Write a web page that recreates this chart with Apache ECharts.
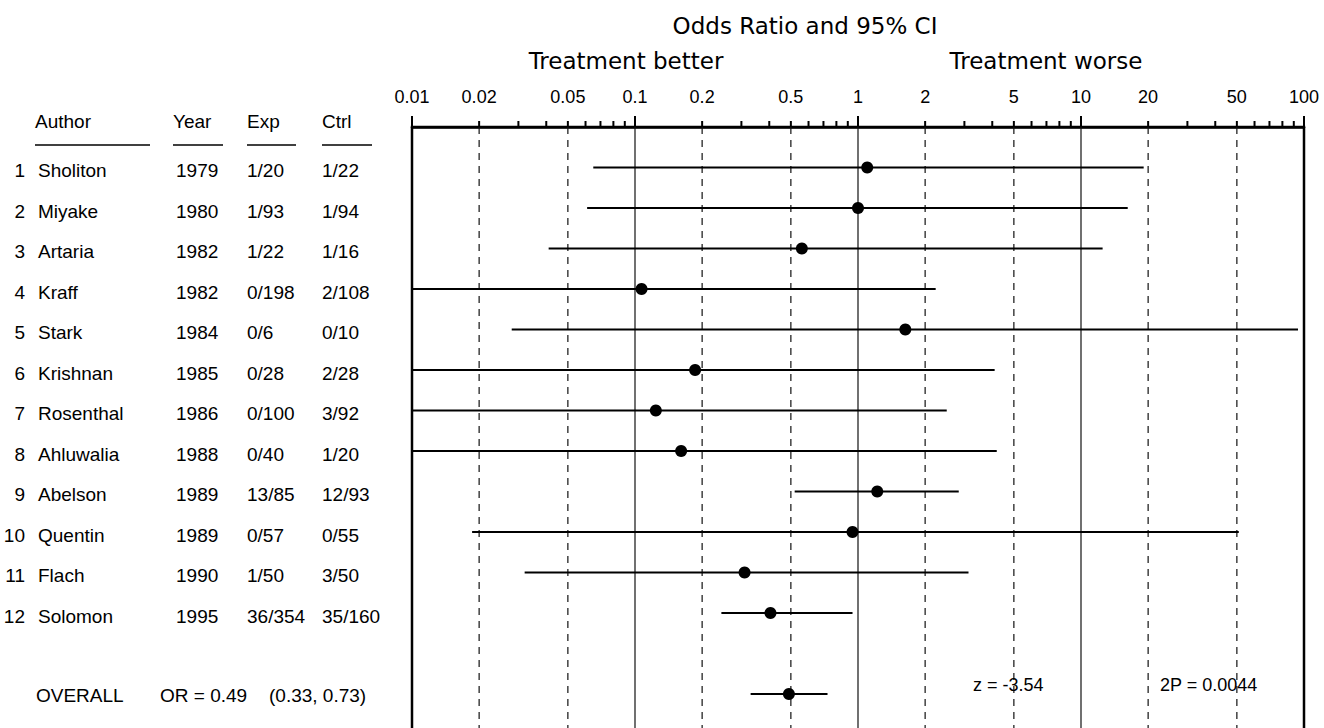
<!DOCTYPE html>
<html><head><meta charset="utf-8">
<script src="https://cdn.jsdelivr.net/npm/echarts@6/dist/echarts.min.js"></script>
<style>html,body{margin:0;padding:0;background:#fff}#c{width:1324px;height:728px}</style>
</head><body><div id="c"></div>
<script>
// ---------- data ----------
const authors = ['Sholiton','Miyake','Artaria','Kraff','Stark','Krishnan','Rosenthal','Ahluwalia','Abelson','Quentin','Flach','Solomon'];
const years   = ['1979','1980','1982','1982','1984','1985','1986','1988','1989','1989','1990','1995'];
const expArm  = ['1/20','1/93','1/22','0/198','0/6','0/28','0/100','0/40','13/85','0/57','1/50','36/354'];
const ctrlArm = ['1/22','1/94','1/16','2/108','0/10','2/28','3/92','1/20','12/93','0/55','3/50','35/160'];
const oddsRatio = [1.10, 1.00, 0.56, 0.107, 1.63, 0.186, 0.124, 0.161, 1.22, 0.945, 0.31, 0.405];
const ciLower   = [0.065, 0.061, 0.041, 0.005, 0.028, 0.005, 0.005, 0.005, 0.52, 0.0186, 0.032, 0.244];
const ciUpper   = [19.1, 16.2, 12.5, 2.23, 94, 4.1, 2.5, 4.19, 2.83, 51, 3.13, 0.945];
const overallOR = [0.49];
const overallLo = [0.33];
const overallHi = [0.73];
const overallZ = '-3.54';
const overallP = '0.0044';
const tickValues = [0.01,0.02,0.05,0.1,0.2,0.5,1,2,5,10,20,50,100];
const tickLabels = ['0.01','0.02','0.05','0.1','0.2','0.5','1','2','5','10','20','50','100'];
const majorTicks = [0.01,0.1,1,10,100];
const minorTicks = [0.02,0.03,0.04,0.05,0.06,0.07,0.08,0.09,0.2,0.3,0.4,0.5,0.6,0.7,0.8,0.9,2,3,4,5,6,7,8,9,20,30,40,50,60,70,80,90];
const solidGrid = [0.1,1,10];
const dashedGrid = [0.02,0.05,0.2,0.5,2,5,20,50];

// ---------- layout ----------
const GRID_TOP = 127, ROW = 40.5, GRID_H = 613;
const Y_MAX = GRID_H / ROW;
const OVERALL_ROW = 14;
const TXT = 'Liberation Sans';
const HEAD = 'DejaVu Sans';
const txt = (x, y, s, size, align, fam) => ({type:'text', x, y, style:{text:s, fill:'#000', fontSize:size, fontFamily:fam||TXT, align:align||'left', verticalAlign:'middle'}});

const chart = echarts.init(document.getElementById('c'), null, {renderer:'svg'});

function vline(dash){
  return function(params, api){
    const v = api.value(0);
    const a = api.coord([v, 0]), b = api.coord([v, Y_MAX]);
    return {type:'line', shape:{x1:a[0], y1:a[1], x2:b[0], y2:b[1]}, style:{stroke:'#111', lineWidth:1.2, lineDash: dash}};
  };
}
function tick(len){
  return function(params, api){
    const a = api.coord([api.value(0), 0]);
    return {type:'line', shape:{x1:a[0], y1:a[1], x2:a[0], y2:a[1]-len}, style:{stroke:'#000', lineWidth:2}};
  };
}
function ciItem(params, api){
  const y = api.value(0);
  const l = api.coord([api.value(1), y]), m = api.coord([api.value(2), y]), h = api.coord([api.value(3), y]);
  return {type:'group', children:[
    {type:'line', shape:{x1:l[0], y1:l[1], x2:h[0], y2:h[1]}, style:{stroke:'#000', lineWidth:2}},
    {type:'circle', shape:{cx:m[0], cy:m[1], r:6}, style:{fill:'#000'}}
  ]};
}

const option = {
  animation:false,
  backgroundColor:'#fff',
  grid:{left:412, right:20, top:GRID_TOP, height:GRID_H, outerBoundsMode:'none', containLabel:false,
    show:true, borderColor:'#000', borderWidth:2.5, backgroundColor:'transparent'},
  xAxis:{type:'log', logBase:10, min:0.01, max:100, position:'top',
    axisLine:{show:true, onZero:false, lineStyle:{color:'#000', width:2.5}},
    axisTick:{show:false}, axisLabel:{show:false}, splitLine:{show:false}, minorTick:{show:false}},
  yAxis:{type:'value', inverse:true, min:0, max:Y_MAX, show:false, splitLine:{show:false}},
  graphic:[
    txt(805, 26, 'Odds Ratio and 95% CI', 23, 'center', HEAD),
    txt(626, 61, 'Treatment better', 23, 'center', HEAD),
    txt(1046, 61, 'Treatment worse', 23, 'center', HEAD),
    txt(35, 121, 'Author', 19), txt(173, 121, 'Year', 19), txt(247, 121, 'Exp', 19), txt(322, 121, 'Ctrl', 19),
    {type:'line', shape:{x1:35, y1:145, x2:150, y2:145}, style:{stroke:'#000', lineWidth:1.5}},
    {type:'line', shape:{x1:173, y1:145, x2:223, y2:145}, style:{stroke:'#000', lineWidth:1.5}},
    {type:'line', shape:{x1:247, y1:145, x2:296, y2:145}, style:{stroke:'#000', lineWidth:1.5}},
    {type:'line', shape:{x1:322, y1:145, x2:372, y2:145}, style:{stroke:'#000', lineWidth:1.5}}
  ],
  series:[
    {type:'custom', name:'solid grid', clip:false, data:solidGrid.map(v=>[v]), renderItem:vline(null), silent:true},
    {type:'custom', name:'dashed grid', clip:false, data:dashedGrid.map(v=>[v]), renderItem:vline([7,6]), silent:true},
    {type:'custom', name:'major ticks', clip:false, data:majorTicks.map(v=>[v]), renderItem:tick(11), silent:true},
    {type:'custom', name:'minor ticks', clip:false, data:minorTicks.map(v=>[v]), renderItem:tick(6), silent:true},
    {type:'custom', name:'tick labels', clip:false, data:tickValues.map(v=>[v]), silent:true,
      renderItem:function(params, api){
        const a = api.coord([api.value(0), 0]);
        return txt(a[0], a[1]-30, tickLabels[params.dataIndex], 18, 'center');
      }},
    {type:'custom', name:'table', clip:false, data:authors.map((a,i)=>[i+1]), silent:true,
      renderItem:function(params, api){
        const i = params.dataIndex;
        const y = api.coord([1, api.value(0)])[1] + 3;
        return {type:'group', children:[
          txt(25, y, String(i+1), 19, 'right'),
          txt(38, y, authors[i], 19),
          txt(176, y, years[i], 19),
          txt(247, y, expArm[i], 19),
          txt(322, y, ctrlArm[i], 19)
        ]};
      }},
    {type:'custom', name:'studies', clip:true, encode:{x:[1,2,3], y:0},
      data:authors.map((a,i)=>[i+1, ciLower[i], oddsRatio[i], ciUpper[i]]), renderItem:ciItem},
    {type:'custom', name:'overall', clip:false, encode:{x:[1,2,3], y:0},
      data:overallOR.map((v,i)=>[OVERALL_ROW, overallLo[i], v, overallHi[i]]),
      renderItem:function(params, api){
        const g = ciItem(params, api);
        const y = api.coord([1, api.value(0)])[1];
        const f = v => v.toFixed(2);
        g.children.push(
          txt(36, y+1, 'OVERALL', 19),
          txt(160, y+1, 'OR = ' + f(api.value(2)), 19),
          txt(269, y+1, '(' + f(api.value(1)) + ', ' + f(api.value(3)) + ')', 19),
          txt(973, y-9, 'z = ' + overallZ, 18),
          txt(1160, y-9, '2P = ' + overallP, 18)
        );
        return g;
      }}
  ]
};
chart.setOption(option);
</script></body></html>
